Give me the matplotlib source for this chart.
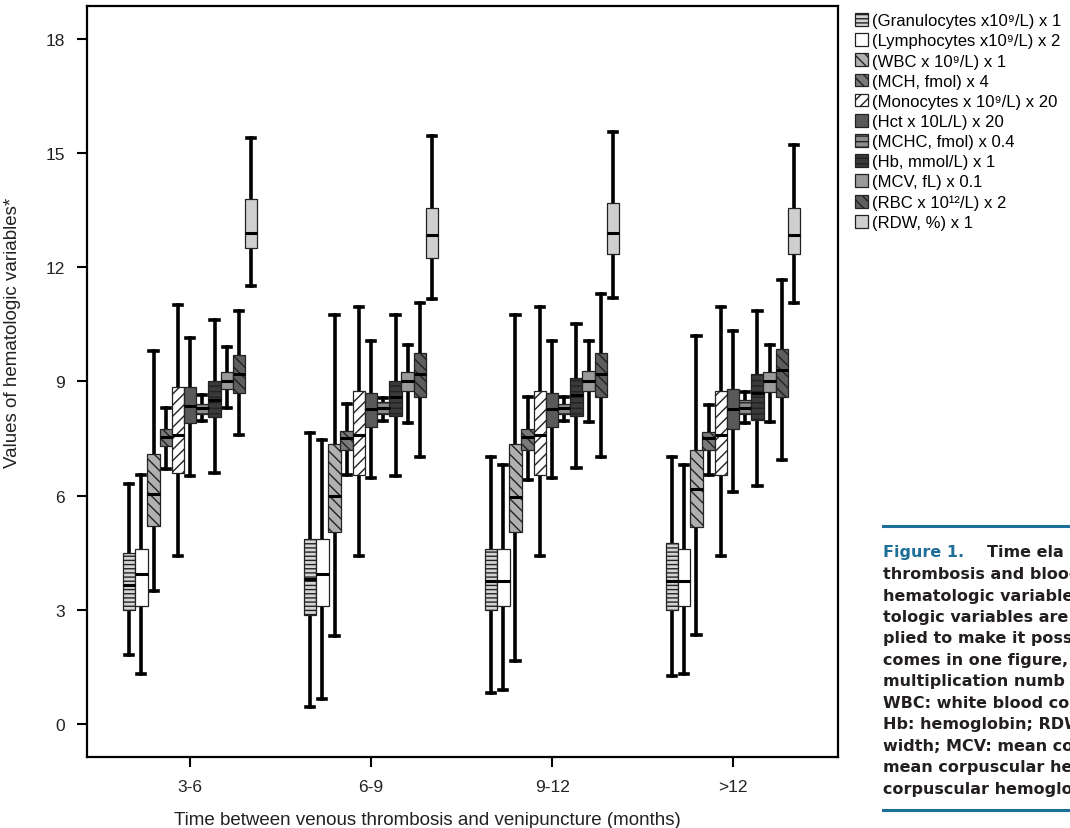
import matplotlib
matplotlib.use("Agg")
import matplotlib.pyplot as plt
from matplotlib.patches import Patch
from matplotlib.lines import Line2D

# time groups (months)
groups = ["3-6", "6-9", "9-12", ">12"]

series = [
    "(Granulocytes x10\u2079/L) x 1",
    "(Lymphocytes x10\u2079/L) x 2",
    "(WBC x 10\u2079/L) x 1",
    "(MCH, fmol) x 4",
    "(Monocytes x 10\u2079/L) x 20",
    "(Hct x 10L/L) x 20",
    "(MCHC, fmol) x 0.4",
    "(Hb, mmol/L) x 1",
    "(MCV, fL) x 0.1",
    "(RBC x 10\u00b9\u00b2/L) x 2",
    "(RDW, %) x 1",
]

# [whisker low, q1, median, q3, whisker high] per series, one list per group
g_3_6 = [
    [1.8, 3.0, 3.65, 4.5, 6.3],
    [1.3, 3.1, 3.95, 4.6, 6.55],
    [3.5, 5.2, 6.05, 7.1, 9.8],
    [6.7, 7.3, 7.55, 7.75, 8.3],
    [4.4, 6.6, 7.6, 8.85, 11.0],
    [6.5, 7.9, 8.35, 8.85, 10.15],
    [7.95, 8.15, 8.3, 8.4, 8.65],
    [6.6, 8.05, 8.5, 9.0, 10.6],
    [8.3, 8.8, 9.0, 9.25, 9.9],
    [7.6, 8.7, 9.2, 9.7, 10.85],
    [11.5, 12.5, 12.9, 13.8, 15.4],
]
g_6_9 = [
    [0.45, 2.85, 3.8, 4.85, 7.65],
    [0.65, 3.1, 3.95, 4.85, 7.45],
    [2.3, 5.05, 6.0, 7.35, 10.75],
    [6.55, 7.2, 7.5, 7.7, 8.4],
    [4.4, 6.55, 7.6, 8.75, 10.95],
    [6.45, 7.8, 8.28, 8.7, 10.05],
    [7.95, 8.15, 8.3, 8.45, 8.55],
    [6.5, 8.1, 8.6, 9.0, 10.75],
    [7.9, 8.75, 9.0, 9.24, 9.95],
    [7.0, 8.6, 9.2, 9.75, 11.05],
    [11.15, 12.25, 12.85, 13.55, 15.45],
]
g_9_12 = [
    [0.8, 3.0, 3.75, 4.6, 7.0],
    [0.9, 3.1, 3.75, 4.6, 6.8],
    [1.65, 5.05, 5.95, 7.35, 10.75],
    [6.4, 7.2, 7.55, 7.75, 8.6],
    [4.4, 6.55, 7.6, 8.75, 10.95],
    [6.45, 7.8, 8.28, 8.7, 10.05],
    [7.95, 8.15, 8.3, 8.4, 8.6],
    [6.73, 8.1, 8.63, 9.1, 10.5],
    [7.93, 8.75, 9.0, 9.27, 10.05],
    [7.0, 8.6, 9.2, 9.75, 11.3],
    [11.2, 12.35, 12.9, 13.68, 15.55],
]
g_12 = [
    [1.25, 3.0, 3.75, 4.75, 7.0],
    [1.3, 3.1, 3.75, 4.6, 6.8],
    [2.33, 5.18, 6.17, 7.2, 10.2],
    [6.55, 7.2, 7.5, 7.67, 8.37],
    [4.4, 6.55, 7.6, 8.75, 10.95],
    [6.1, 7.75, 8.28, 8.8, 10.33],
    [7.9, 8.15, 8.3, 8.5, 8.72],
    [6.25, 7.98, 8.7, 9.19, 10.85],
    [7.93, 8.72, 9.0, 9.25, 9.95],
    [6.93, 8.6, 9.3, 9.86, 11.65],
    [11.06, 12.35, 12.85, 13.55, 15.2],
]
group_data = [g_3_6, g_6_9, g_9_12, g_12]

# fill + hatch for each series
faces = ["#d4d4d4", "white", "#b0b0b0", "#7a7a7a", "white", "#5a5a5a",
         "#8c8c8c", "#3a3a3a", "#9a9a9a", "#5e5e5e", "#cfcfcf"]
hatches = ["----", None, "\\\\\\", "\\\\\\", "///", None,
           "---", "---", None, "\\\\\\", None]

plt.rcParams["hatch.linewidth"] = 1.0
sans = ["Liberation Sans", "DejaVu Sans"]

fig = plt.figure(figsize=(10.7, 8.29), dpi=100)
ax = fig.add_axes([87 / 1070, 1 - 758 / 829, (838 - 87) / 1070, (758 - 7) / 829])

step = 0.0674
n = len(series)
for gi, gdata in enumerate(group_data):
    stats = []
    pos = []
    for si, vals in enumerate(gdata):
        lo, q1, med, q3, hi = vals
        stats.append(dict(whislo=lo, q1=q1, med=med, q3=q3, whishi=hi, fliers=[]))
        pos.append(gi + (si - (n - 1) / 2) * step)
    res = ax.bxp(stats, positions=pos, widths=step * 1.02, patch_artist=True,
                 showfliers=False, capwidths=0.045,
                 boxprops=dict(linewidth=0.9, edgecolor="#222222"),
                 whiskerprops=dict(linewidth=2.6, color="black"),
                 capprops=dict(linewidth=2.6, color="black"),
                 medianprops=dict(linewidth=2.2, color="black"))
    for si, box in enumerate(res["boxes"]):
        box.set_facecolor(faces[si])
        if hatches[si]:
            box.set_hatch(hatches[si])
        box.set_zorder(3)
    for m in res["medians"]:
        m.set_zorder(4)

ax.set_xlim(-0.57, 3.58)
ax.set_ylim(-0.87, 18.86)
ax.set_xticks(range(len(groups)))
ax.set_xticklabels(groups)
ax.set_yticks([0, 3, 6, 9, 12, 15, 18])
ax.tick_params(direction="out", length=7, width=1.5, labelsize=12.5, pad=9)
for sp in ax.spines.values():
    sp.set_linewidth(1.6)
for lab in ax.get_xticklabels() + ax.get_yticklabels():
    lab.set_family(sans)
    lab.set_color("#222222")

ax.set_xlabel("Time between venous thrombosis and venipuncture (months)",
              fontsize=13.5, family=sans, color="#222222")
ax.xaxis.set_label_coords(0.453, -0.072)
ax.set_ylabel("Values of hematologic variables*", fontsize=13.5,
              family=sans, color="#222222")
ax.yaxis.set_label_coords(-0.088, 0.566)

handles = [Patch(facecolor=faces[i], edgecolor="#222222", hatch=hatches[i],
                 linewidth=0.9) for i in range(n)]
fig.legend(handles, series, loc="upper left", bbox_to_anchor=(855 / 1070, 1 - 14 / 829),
           frameon=False, handlelength=0.8, handleheight=0.8, handletextpad=0.2,
           labelspacing=0.3, borderaxespad=0, borderpad=0,
           prop=dict(family=sans, size=12))

# caption block on the right
blue = "#1d6f98"
fig.add_artist(Line2D([883 / 1070, 1.0], [1 - 527 / 829] * 2, color=blue, lw=2.2))
fig.add_artist(Line2D([883 / 1070, 1.0], [1 - 811 / 829] * 2, color=blue, lw=2.2))
cap_lines = [
    "thrombosis and blood",
    "hematologic variables.",
    "tologic variables are",
    "plied to make it poss",
    "comes in one figure,",
    "multiplication numb",
    "WBC: white blood co",
    "Hb: hemoglobin; RDW",
    "width; MCV: mean co",
    "mean corpuscular he",
    "corpuscular hemoglo",
]
cap_font = dict(family=["DejaVu Sans"], weight="bold", size=11.5)
fig.text(883 / 1070, 1 - 553 / 829, "Figure 1.", color=blue, va="center", **cap_font)
fig.text(987 / 1070, 1 - 553 / 829, "Time ela", color="#231f20", va="center", **cap_font)
for k, line in enumerate(cap_lines):
    fig.text(883 / 1070, 1 - (553 + (k + 1) * 21.5) / 829, line, color="#231f20",
             va="center", **cap_font)

fig.savefig("out.png", dpi=100)
